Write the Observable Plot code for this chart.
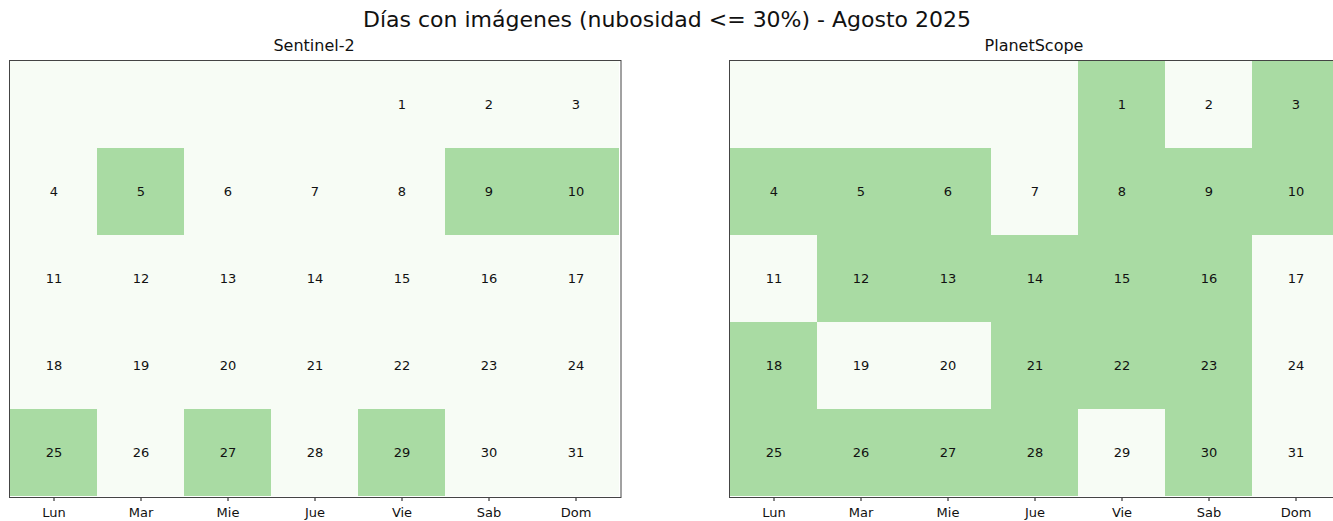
<!DOCTYPE html>
<html>
<head>
<meta charset="utf-8">
<script src="https://cdn.jsdelivr.net/npm/d3@7"></script>
<script src="https://cdn.jsdelivr.net/npm/@observablehq/plot@0.6"></script>
<style>
  html, body { margin: 0; padding: 0; background: #fff; overflow: hidden; }
  #wrap { position: relative; width: 1333px; height: 521px; overflow: hidden; font-family: "DejaVu Sans", sans-serif; }
  .t { position: absolute; white-space: nowrap; color: #111; transform: translateX(-50%); line-height: 1; }
  .panel { position: absolute; }
  .panel svg { max-width: none !important; }
</style>
</head>
<body>
<div id="wrap">
  <div class="t" id="title" style="left:667px; top:9px; font-size:22px;">Días con imágenes (nubosidad &lt;= 30%) - Agosto 2025</div>
  <div class="t" style="left:314px; top:38px; font-size:16px;">Sentinel-2</div>
  <div class="t" style="left:1034px; top:38px; font-size:16px;">PlanetScope</div>
  <div class="panel" id="p1" style="left:0px; top:50px; width:640px;"></div>
  <div class="panel" id="p2" style="left:710px; top:50px; width:650px;"></div>
</div>
<script>
// ---- data ----
const weekdayLabels = ["Lun", "Mar", "Mie", "Jue", "Vie", "Sab", "Dom"];
const weeks = [0, 1, 2, 3, 4];
const daysInMonth = 31;
const firstWeekday = 4; // 1 de agosto de 2025 = Vie
const sentinelDays = [5, 9, 10, 25, 27, 29];
const planetDays = [1, 3, 4, 5, 6, 8, 9, 10, 12, 13, 14, 15, 16, 18, 21, 22, 23, 25, 26, 27, 28, 30];

const colorOff = "#f7fcf5";
const colorOn = "#a9dba3";

function buildGrid(goodDays) {
  const set = new Set(goodDays);
  const cells = [];
  for (const w of weeks) {
    for (let c = 0; c < 7; c++) {
      const idx = w * 7 + c - firstWeekday + 1;
      const day = idx >= 1 && idx <= daysInMonth ? idx : null;
      cells.push({ wd: weekdayLabels[c], week: w, day, on: day !== null && set.has(day) ? 1 : 0 });
    }
  }
  return cells;
}

function panel(goodDays, marginLeft, width) {
  const cells = buildGrid(goodDays);
  const innerW = 611.5;
  return Plot.plot({
    width,
    height: 471,
    marginLeft,
    marginRight: width - marginLeft - innerW,
    marginTop: 10,
    marginBottom: 24,
    style: { fontFamily: "DejaVu Sans, sans-serif", fontSize: "13px", color: "#111", background: "transparent", maxWidth: "none" },
    x: { type: "band", domain: weekdayLabels, padding: 0, label: null, tickSize: 4, tickPadding: 6 },
    y: { type: "band", domain: weeks, padding: 0, axis: null },
    color: { type: "ordinal", domain: [0, 1], range: [colorOff, colorOn] },
    marks: [
      Plot.cell(cells, { x: "wd", y: "week", fill: "on", inset: 0 }),
      Plot.text(cells.filter(d => d.day !== null), { x: "wd", y: "week", text: d => String(d.day), fontSize: 13, fill: "#111" }),
      Plot.frame({ stroke: "#444", strokeWidth: 1 })
    ]
  });
}

document.getElementById("p1").appendChild(panel(sentinelDays, 9, 640));
document.getElementById("p2").appendChild(panel(planetDays, 19, 650));
</script>
</body>
</html>
